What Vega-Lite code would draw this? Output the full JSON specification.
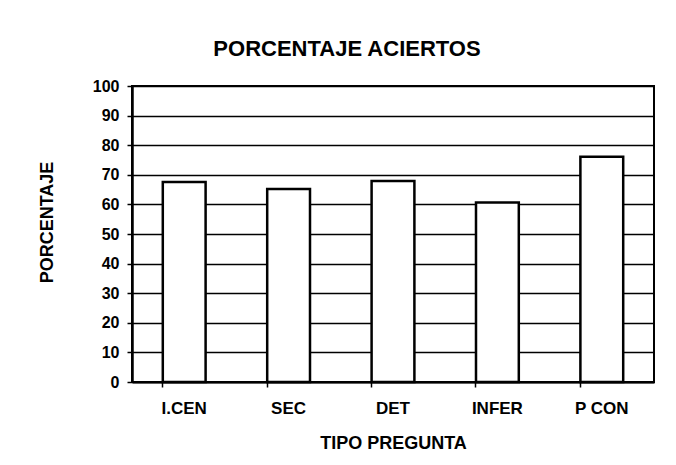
{
  "$schema": "https://vega.github.io/schema/vega-lite/v6.json",
  "autosize": "none",
  "width": 522,
  "height": 296,
  "padding": {"left": 132, "top": 86, "right": 22, "bottom": 83},
  "background": "white",
  "title": {
    "text": "PORCENTAJE ACIERTOS",
    "font": "Liberation Sans",
    "fontSize": 22,
    "fontWeight": "bold",
    "color": "black",
    "anchor": "middle",
    "dx": -46,
    "baseline": "alphabetic",
    "offset": 0
  },
  "data": {
    "values": [
      {"tipo": "I.CEN", "pct": 67.6},
      {"tipo": "SEC", "pct": 65.2},
      {"tipo": "DET", "pct": 67.9},
      {"tipo": "INFER", "pct": 60.6},
      {"tipo": "P CON", "pct": 76.1}
    ]
  },
  "mark": {"type": "bar", "fill": "white", "stroke": "black", "strokeWidth": 2.5},
  "encoding": {
    "x": {
      "field": "tipo",
      "type": "nominal",
      "sort": null,
      "title": "TIPO PREGUNTA",
      "scale": {"paddingInner": 0.59, "paddingOuter": 0.295},
      "axis": {
        "labelAngle": 0,
        "labelFont": "Liberation Sans",
        "labelFontSize": 17,
        "labelFontWeight": "bold",
        "labelColor": "black",
        "labelPadding": 13,
        "tickSize": 5,
        "tickColor": "black",
        "tickWidth": 1.5,
        "bandPosition": 0,
        "domainColor": "black",
        "domainWidth": 2,
        "titleFont": "Liberation Sans",
        "titleFontSize": 18,
        "titleFontWeight": "bold",
        "titleColor": "black",
        "titlePadding": 18
      }
    },
    "y": {
      "field": "pct",
      "type": "quantitative",
      "title": "PORCENTAJE",
      "scale": {"domain": [0, 100], "nice": false},
      "axis": {
        "values": [0, 10, 20, 30, 40, 50, 60, 70, 80, 90, 100],
        "grid": true,
        "gridColor": "black",
        "gridWidth": 1.3,
        "gridOpacity": 1,
        "labelFont": "Liberation Sans",
        "labelFontSize": 16,
        "labelFontWeight": "bold",
        "labelColor": "black",
        "labelPadding": 8,
        "tickSize": 5,
        "tickColor": "black",
        "tickWidth": 1.5,
        "domainColor": "black",
        "domainWidth": 2.5,
        "titleFont": "Liberation Sans",
        "titleFontSize": 18,
        "titleFontWeight": "bold",
        "titleColor": "black",
        "titlePadding": 36,
        "titleY": 136
      }
    }
  },
  "config": {
    "view": {"stroke": "black", "strokeWidth": 2}
  }
}
